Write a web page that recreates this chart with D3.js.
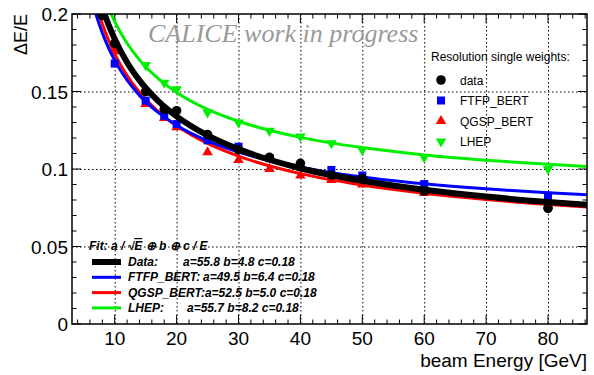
<!DOCTYPE html>
<html>
<head>
<meta charset="utf-8">
<script src="https://cdn.jsdelivr.net/npm/d3@7"></script>
<style>
  body { margin: 0; background: #fff; }
  text { font-family: "Liberation Sans", Arial, sans-serif; }
</style>
</head>
<body>
<div id="chart"></div>
<script>
// measured points (beam energy in GeV, relative resolution dE/E)
var dataE    = [8, 10, 15, 18, 20, 25, 30, 35, 40, 45, 50, 60, 80];
var dataRes  = [0.199, 0.181, 0.150, 0.1385, 0.1376, 0.1222, 0.1125, 0.1075, 0.1037, 0.0961, 0.094, 0.0858, 0.0746];

var ftfpE    = [10, 15, 18, 20, 25, 30, 35, 40, 45, 50, 60, 80];
var ftfpRes  = [0.168, 0.1441, 0.1344, 0.129, 0.1185, 0.1144, 0.107, 0.1015, 0.0994, 0.0958, 0.0903, 0.0828];

var qgspE    = [10, 15, 18, 20, 25, 30, 35, 40, 45, 50, 60, 80];
var qgspRes  = [0.176, 0.142, 0.133, 0.127, 0.1108, 0.1058, 0.1, 0.0958, 0.0929, 0.090, 0.0845, 0.0765];

var lhepE    = [15, 18, 20, 25, 30, 35, 40, 45, 50, 60, 80];
var lhepRes  = [0.167, 0.1557, 0.1515, 0.1365, 0.13, 0.1246, 0.121, 0.1166, 0.1123, 0.1075, 0.1];

// fit curves, sampled along the energy axis
var fitE     = [6.5, 7, 8, 9, 10, 12, 14, 17, 20, 25, 30, 40, 50, 60, 70, 80, 87];
var fitData  = [0.2258, 0.2178, 0.2043, 0.1931, 0.1838, 0.1687, 0.1572, 0.1440, 0.1340, 0.1217, 0.1128, 0.1005, 0.0924, 0.0866, 0.0822, 0.0787, 0.0767];
var fitFtfp  = [0.2063, 0.1994, 0.1877, 0.1781, 0.1701, 0.1573, 0.1475, 0.1365, 0.1282, 0.1181, 0.1109, 0.1012, 0.0949, 0.0905, 0.0872, 0.0846, 0.0832];
var fitQgsp  = [0.2137, 0.2062, 0.1935, 0.1831, 0.1743, 0.1603, 0.1495, 0.1372, 0.1279, 0.1165, 0.1083, 0.0970, 0.0896, 0.0843, 0.0803, 0.0771, 0.0753];
var fitLhep  = [0.2350, 0.2274, 0.2145, 0.2040, 0.1951, 0.1811, 0.1704, 0.1584, 0.1494, 0.1385, 0.1308, 0.1204, 0.1138, 0.1091, 0.1057, 0.1030, 0.1015];

var xTicks = [10, 20, 30, 40, 50, 60, 70, 80];
var yTicks = [0, 0.05, 0.1, 0.15, 0.2];
var yTickLabels = ["0", "0.05", "0.1", "0.15", "0.2"];

// fit legend rows: name, parameters, offset of the parameters (0 = run on)
var fitLegend = [
  { name: "Data:",       pars: "a=55.8 b=4.8 c=0.18", gap: 55 },
  { name: "FTFP_BERT:",  pars: "a=49.5 b=6.4 c=0.18", gap: 75 },
  { name: "QGSP_BERT:",  pars: "a=52.5 b=5.0 c=0.18", gap: 0 },
  { name: "LHEP:",       pars: "a=55.7 b=8.2 c=0.18", gap: 59 }
];

makeChart();

function makeChart() {
  var W = 594, H = 375;
  var left = 72, right = 587, top = 14, bottom = 324;

  var svg = d3.select("#chart").append("svg")
      .attr("width", W)
      .attr("height", H);

  var x = d3.scaleLinear().domain([3.1, 86.3]).range([left, right]);
  var y = d3.scaleLinear().domain([0, 0.2]).range([bottom, top]);

  svg.append("clipPath").attr("id", "frame")
    .append("rect")
      .attr("x", left).attr("y", top)
      .attr("width", right - left).attr("height", bottom - top);

  // dotted grid
  var grid = svg.append("g").attr("stroke", "#000").attr("stroke-width", 1)
      .attr("stroke-dasharray", "1.5,2.5");
  grid.selectAll("line.gx").data(xTicks).enter().append("line")
      .attr("x1", function(d) { return x(d) + 0.5; })
      .attr("x2", function(d) { return x(d) + 0.5; })
      .attr("y1", top).attr("y2", bottom);
  grid.selectAll("line.gy").data([0.05, 0.1, 0.15]).enter().append("line")
      .attr("y1", function(d) { return y(d) + 0.5; })
      .attr("y2", function(d) { return y(d) + 0.5; })
      .attr("x1", left).attr("x2", right);

  // ticks on all four sides, inside the frame (ROOT style)
  var minorX = d3.range(4, 87, 2);
  var minorY = d3.range(0, 0.2001, 0.01);
  var ticks = svg.append("g").attr("stroke", "#000").attr("stroke-width", 1);
  minorX.forEach(function(e) {
    var len = (e % 10 === 0) ? 9 : 4.5;
    ticks.append("line").attr("x1", x(e)).attr("x2", x(e)).attr("y1", bottom).attr("y2", bottom - len);
    ticks.append("line").attr("x1", x(e)).attr("x2", x(e)).attr("y1", top).attr("y2", top + len);
  });
  minorY.forEach(function(v, i) {
    var len = (i % 5 === 0) ? 9 : 4.5;
    ticks.append("line").attr("y1", y(v)).attr("y2", y(v)).attr("x1", left).attr("x2", left + len);
    ticks.append("line").attr("y1", y(v)).attr("y2", y(v)).attr("x1", right).attr("x2", right - len);
  });

  // tick labels
  svg.append("g").selectAll("text").data(xTicks).enter().append("text")
      .attr("x", function(d) { return x(d); })
      .attr("y", 345)
      .attr("text-anchor", "middle")
      .style("font-size", "19px")
      .text(function(d) { return d; });

  svg.append("g").selectAll("text").data(yTicks).enter().append("text")
      .attr("x", 68)
      .attr("y", function(d) { return y(d) + 7; })
      .attr("text-anchor", "end")
      .style("font-size", "19px")
      .text(function(d, i) { return yTickLabels[i]; });

  // axis titles
  svg.append("text")
      .attr("x", 587).attr("y", 367)
      .attr("text-anchor", "end")
      .style("font-size", "19px")
      .text("beam Energy [GeV]");

  svg.append("text")
      .attr("transform", "translate(27,14) rotate(-90)")
      .attr("text-anchor", "end")
      .style("font-size", "18px")
      .text("\u0394E/E");

  svg.append("text")
      .attr("x", 148).attr("y", 42)
      .style("font-family", "'Liberation Serif', 'Times New Roman', serif")
      .style("font-style", "italic")
      .style("font-size", "26px")
      .attr("fill", "#999")
      .text("CALICE work in progress");

  // curves and points
  var line = d3.line()
      .x(function(d) { return x(d[0]); })
      .y(function(d) { return y(d[1]); })
      .curve(d3.curveMonotoneX);

  var plot = svg.append("g").attr("clip-path", "url(#frame)");

  var series = [
    { e: lhepE, r: lhepRes, fit: fitLhep, color: "#00ee00", sym: d3.symbolTriangle, size: 48, flip: true,  w: 3 },
    { e: qgspE, r: qgspRes, fit: fitQgsp, color: "#ff0000", sym: d3.symbolTriangle, size: 48, flip: false, w: 3 },
    { e: ftfpE, r: ftfpRes, fit: fitFtfp, color: "#0000ff", sym: d3.symbolSquare,   size: 64, flip: false, w: 3 },
    { e: dataE, r: dataRes, fit: fitData, color: "#000000", sym: d3.symbolCircle,   size: 72, flip: false, w: 6 }
  ];

  series.forEach(function(s) {
    var pts = s.e.map(function(e, i) { return [e, s.r[i]]; });
    plot.append("g").selectAll("path").data(pts).enter().append("path")
        .attr("d", d3.symbol().type(s.sym).size(s.size))
        .attr("transform", function(d) {
          return "translate(" + x(d[0]) + "," + y(d[1]) + ")" + (s.flip ? " rotate(180)" : "");
        })
        .attr("fill", s.color);

    var curve = fitE.map(function(e, i) { return [e, s.fit[i]]; });
    plot.append("path")
        .datum(curve)
        .attr("d", line)
        .attr("fill", "none")
        .attr("stroke", s.color)
        .attr("stroke-width", s.w);
  });

  // frame
  svg.append("rect")
      .attr("x", left).attr("y", top)
      .attr("width", right - left).attr("height", bottom - top)
      .attr("fill", "none")
      .attr("stroke", "#000")
      .attr("stroke-width", 1.5);

  // legend: markers
  var leg = svg.append("g").style("font-size", "12px");
  leg.append("text").attr("x", 431).attr("y", 61).text("Resolution single weights:");
  var names = ["data", "FTFP_BERT", "QGSP_BERT", "LHEP"];
  var legSeries = [series[3], series[2], series[1], series[0]];
  names.forEach(function(n, i) {
    var yy = 80 + i * 20.5;
    var s = legSeries[i];
    leg.append("path")
        .attr("d", d3.symbol().type(s.sym).size(s.size))
        .attr("transform", "translate(441," + yy + ")" + (s.flip ? " rotate(180)" : ""))
        .attr("fill", s.color);
    leg.append("text").attr("x", 460).attr("y", yy + 4.5).text(n);
  });

  // legend: fits
  var fl = svg.append("g")
      .style("font-size", "12px")
      .style("font-weight", "bold")
      .style("font-style", "italic");
  var title = fl.append("text").attr("x", 89).attr("y", 250);
  title.append("tspan").text("Fit: a / \u221A");
  title.append("tspan").style("text-decoration", "overline").text("E");
  title.append("tspan").text(" \u2295 b \u2295 c / E");

  fitLegend.forEach(function(f, i) {
    var yy = 262 + i * 15.3;
    var s = legSeries[i];
    fl.append("line")
        .attr("x1", 92).attr("x2", 121)
        .attr("y1", yy).attr("y2", yy)
        .attr("stroke", s.color)
        .attr("stroke-width", s.w);
    if (f.gap > 0) {
      fl.append("text").attr("x", 128).attr("y", yy + 4).text(f.name);
      fl.append("text").attr("x", 128 + f.gap).attr("y", yy + 4).text(f.pars);
    } else {
      fl.append("text").attr("x", 128).attr("y", yy + 4).text(f.name + f.pars);
    }
  });
}
</script>
</body>
</html>
